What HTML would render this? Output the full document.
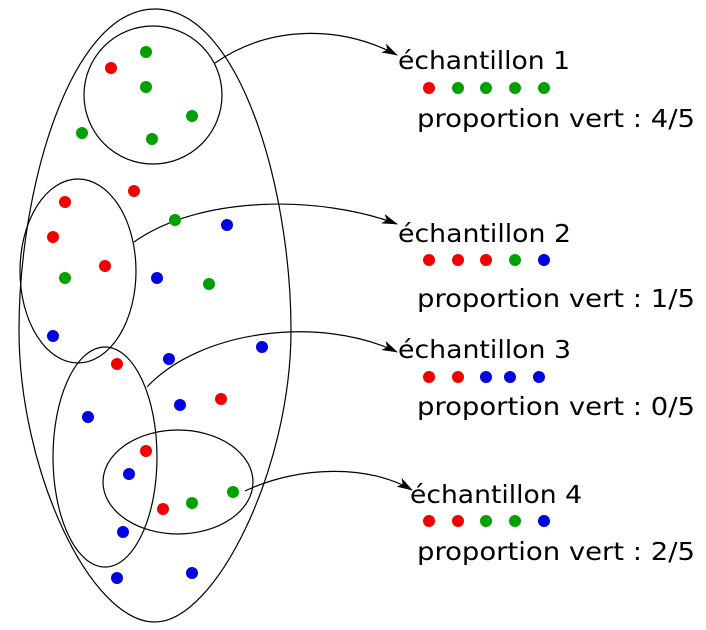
<!DOCTYPE html>
<html><head><meta charset="utf-8"><style>html,body{margin:0;padding:0;background:#fff}svg{display:block}</style></head>
<body>
<svg width="706" height="630" viewBox="0 0 706 630" xmlns="http://www.w3.org/2000/svg">
<defs><marker id="a" markerWidth="16" markerHeight="10" refX="15" refY="5" orient="auto" markerUnits="userSpaceOnUse"><path d="M0,0 L16,5 L0,10 L4,5 Z" fill="#000"/></marker></defs>
<g fill="none" stroke="#000" stroke-width="1.2">
<path d="M155,9 C70,9 19,190 19,330 C19,470 90,622 155,622 C215,622 291,470 291,330 C291,190 240,9 155,9 Z"/>
<circle cx="153" cy="95" r="69"/>
<ellipse cx="78" cy="271" rx="58" ry="92"/>
<ellipse cx="105" cy="457" rx="52" ry="110"/>
<ellipse cx="178" cy="482" rx="75" ry="52"/>
<path d="M215,63 C270,25 340,25 397,55" marker-end="url(#a)"/>
<path d="M134,242 C200,195 320,195 397,224" marker-end="url(#a)"/>
<path d="M147,387 C200,330 320,315 397,352" marker-end="url(#a)"/>
<path d="M245,491 C300,465 370,465 412,490" marker-end="url(#a)"/>
</g>
<g>
<g fill="#00a000"><circle cx="146" cy="52" r="6"/><circle cx="146" cy="87" r="6"/><circle cx="192" cy="116" r="6"/><circle cx="82" cy="133" r="6"/><circle cx="152" cy="139" r="6"/><circle cx="175" cy="220" r="6"/><circle cx="65" cy="278" r="6"/><circle cx="209" cy="284" r="6"/><circle cx="192" cy="503" r="6"/><circle cx="233" cy="492" r="6"/></g>
<g fill="#f00000"><circle cx="111" cy="68" r="6"/><circle cx="134" cy="191" r="6"/><circle cx="65" cy="202" r="6"/><circle cx="53" cy="237" r="6"/><circle cx="105" cy="266" r="6"/><circle cx="117" cy="364" r="6"/><circle cx="221" cy="399" r="6"/><circle cx="146" cy="451" r="6"/><circle cx="163" cy="509" r="6"/></g>
<g fill="#0000e0"><circle cx="227" cy="225" r="6"/><circle cx="157" cy="278" r="6"/><circle cx="53" cy="336" r="6"/><circle cx="169" cy="359" r="6"/><circle cx="262" cy="347" r="6"/><circle cx="88" cy="417" r="6"/><circle cx="180" cy="405" r="6"/><circle cx="129" cy="474" r="6"/><circle cx="123" cy="532" r="6"/><circle cx="117" cy="578" r="6"/><circle cx="192" cy="573" r="6"/></g>
</g>
<g font-family="DejaVu Sans, Liberation Sans, sans-serif" font-size="25" fill="#000">
<text x="398" y="69" textLength="172" lengthAdjust="spacingAndGlyphs">échantillon 1</text>
<text x="417" y="127" textLength="278" lengthAdjust="spacingAndGlyphs">proportion vert : 4/5</text>
<text x="398" y="242" textLength="173" lengthAdjust="spacingAndGlyphs">échantillon 2</text>
<text x="417" y="307" textLength="278" lengthAdjust="spacingAndGlyphs">proportion vert : 1/5</text>
<text x="398" y="358" textLength="173" lengthAdjust="spacingAndGlyphs">échantillon 3</text>
<text x="417" y="415" textLength="278" lengthAdjust="spacingAndGlyphs">proportion vert : 0/5</text>
<text x="410" y="503" textLength="172" lengthAdjust="spacingAndGlyphs">échantillon 4</text>
<text x="417" y="560" textLength="278" lengthAdjust="spacingAndGlyphs">proportion vert : 2/5</text>
</g>
<g>
<circle cx="429" cy="88" r="6" fill="#f00000"/><circle cx="458" cy="88" r="6" fill="#00a000"/><circle cx="486" cy="88" r="6" fill="#00a000"/><circle cx="515" cy="88" r="6" fill="#00a000"/><circle cx="544" cy="88" r="6" fill="#00a000"/>
<circle cx="429" cy="260" r="6" fill="#f00000"/><circle cx="458" cy="260" r="6" fill="#f00000"/><circle cx="486" cy="260" r="6" fill="#f00000"/><circle cx="515" cy="260" r="6" fill="#00a000"/><circle cx="544" cy="260" r="6" fill="#0000e0"/>
<circle cx="429" cy="377" r="6" fill="#f00000"/><circle cx="458" cy="377" r="6" fill="#f00000"/><circle cx="486" cy="377" r="6" fill="#0000e0"/><circle cx="510" cy="377" r="6" fill="#0000e0"/><circle cx="539" cy="377" r="6" fill="#0000e0"/>
<circle cx="429" cy="521" r="6" fill="#f00000"/><circle cx="458" cy="521" r="6" fill="#f00000"/><circle cx="486" cy="521" r="6" fill="#00a000"/><circle cx="515" cy="521" r="6" fill="#00a000"/><circle cx="544" cy="521" r="6" fill="#0000e0"/>
</g>
</svg>
</body></html>
